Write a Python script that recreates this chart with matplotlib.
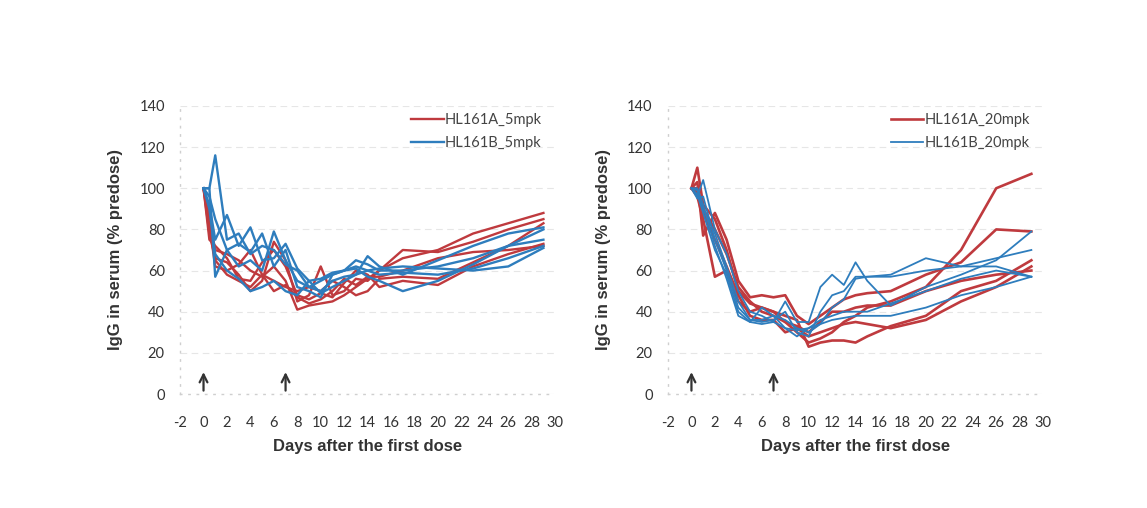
import numpy as np
import matplotlib.pyplot as plt

# sampling days (same for every animal)
days = [0, 0.5, 1, 2, 3, 4, 5, 6, 7, 8, 9, 10, 11, 12, 13, 14, 15, 17, 20, 23, 26, 29]

# 5 mpk group, % of predose IgG
a5 = [
    [100, 85, 70, 68, 65, 60, 57, 62, 55, 41, 43, 44, 45, 48, 52, 56, 60, 66, 70, 78, 83, 88],
    [100, 78, 66, 64, 58, 50, 55, 74, 65, 45, 48, 62, 48, 50, 56, 55, 60, 70, 69, 74, 80, 85],
    [100, 82, 62, 60, 63, 70, 58, 55, 52, 50, 52, 50, 55, 52, 48, 50, 56, 57, 56, 64, 72, 83],
    [100, 75, 72, 66, 56, 55, 64, 70, 62, 48, 46, 49, 47, 54, 60, 58, 52, 55, 53, 62, 68, 73],
    [100, 88, 65, 58, 55, 52, 58, 50, 53, 47, 44, 46, 50, 56, 53, 57, 57, 60, 66, 69, 70, 72],
]
b5 = [
    [100, 100, 116, 75, 78, 68, 72, 70, 63, 60, 52, 50, 55, 57, 58, 60, 61, 62, 61, 60, 62, 71],
    [100, 100, 57, 70, 62, 65, 60, 79, 65, 55, 52, 55, 58, 60, 65, 63, 60, 60, 62, 66, 72, 75],
    [100, 92, 75, 87, 72, 81, 65, 66, 73, 61, 55, 49, 52, 55, 58, 67, 62, 58, 65, 72, 78, 81],
    [100, 96, 85, 70, 73, 69, 78, 62, 70, 52, 50, 47, 58, 60, 61, 57, 55, 50, 55, 63, 72, 80],
    [100, 90, 68, 60, 56, 50, 52, 55, 50, 48, 55, 56, 59, 60, 62, 60, 58, 59, 58, 61, 66, 72],
]

# 20 mpk group
a20 = [
    [100, 110, 92, 85, 70, 50, 44, 42, 40, 35, 30, 25, 27, 30, 35, 38, 42, 45, 52, 70, 100, 107],
    [100, 103, 77, 88, 75, 55, 47, 48, 47, 48, 38, 34, 38, 42, 46, 48, 49, 50, 58, 64, 80, 79],
    [100, 96, 85, 57, 60, 45, 40, 42, 40, 38, 36, 23, 25, 26, 26, 25, 28, 33, 38, 50, 55, 65],
    [100, 98, 88, 75, 62, 48, 38, 36, 36, 30, 32, 28, 30, 32, 34, 35, 34, 32, 36, 45, 52, 62],
    [100, 100, 90, 80, 68, 52, 45, 40, 38, 35, 33, 30, 35, 40, 40, 42, 43, 43, 50, 55, 58, 60],
]
b20 = [
    [100, 96, 104, 80, 68, 50, 40, 38, 35, 45, 35, 35, 52, 58, 53, 64, 55, 43, 52, 58, 65, 79],
    [100, 99, 90, 78, 62, 45, 36, 35, 36, 40, 30, 28, 40, 48, 50, 57, 57, 58, 66, 62, 66, 70],
    [100, 95, 96, 75, 60, 42, 36, 36, 38, 36, 32, 30, 34, 42, 46, 56, 57, 57, 60, 62, 62, 57],
    [100, 97, 88, 70, 58, 40, 35, 34, 35, 32, 31, 32, 34, 36, 37, 38, 38, 38, 42, 48, 52, 57],
    [100, 100, 92, 72, 56, 38, 35, 42, 38, 32, 28, 32, 36, 38, 40, 40, 40, 44, 50, 56, 60, 57],
]

dose_days = [0, 7]
xticks = list(range(-2, 31, 2))
yticks = list(range(0, 141, 20))

red = "#bf3a3e"
blue = "#2e7dbd"
tickfont = "Lato"
labfont = "Liberation Sans"

fig = plt.figure(figsize=(11.47, 5.08), dpi=100)
ax1 = fig.add_axes([0.157, 0.2244, 0.327, 0.567])
ax2 = fig.add_axes([0.5824, 0.2244, 0.327, 0.567])


def panel(ax, reds, blues, red_lab, blue_lab, red_lw, blue_lw):
    for i, s in enumerate(reds):
        ax.plot(days, s, color=red, lw=red_lw, label=red_lab if i == 0 else None, zorder=3)
    for i, s in enumerate(blues):
        ax.plot(days, s, color=blue, lw=blue_lw, label=blue_lab if i == 0 else None, zorder=3)

    ax.set_xlim(-2, 30)
    ax.set_ylim(0, 140)
    ax.set_xticks(xticks)
    ax.set_yticks(yticks)
    ax.set_xticklabels([str(t) for t in xticks], fontfamily=tickfont, fontsize=10.5, color="#333333")
    ax.set_yticklabels([str(t) for t in yticks], fontfamily=tickfont, fontsize=10.5, color="#333333")
    ax.tick_params(axis="x", length=0, pad=16)
    ax.tick_params(axis="y", length=0, pad=11)
    ax.grid(axis="y", color="#e6e6e6", lw=0.8, ls=(0, (6, 4)))
    ax.set_axisbelow(True)
    for side in ["top", "right"]:
        ax.spines[side].set_visible(False)
    for side in ["left", "bottom"]:
        ax.spines[side].set_color("#cfcfcf")
        ax.spines[side].set_linestyle((0, (1, 5)))
        ax.spines[side].set_linewidth(1)

    for d in dose_days:
        ax.annotate("", xy=(d, 12), xytext=(d, 0.3),
                    arrowprops=dict(arrowstyle="->", color="#333333", lw=1.6, mutation_scale=14))

    ax.set_xlabel("Days after the first dose", fontfamily=labfont, fontsize=12,
                  fontweight="bold", color="#333333", labelpad=6)
    ax.set_ylabel("IgG in serum (% predose)", fontfamily=labfont, fontsize=12,
                  fontweight="bold", color="#333333", labelpad=12)
    leg = ax.legend(loc="upper right", bbox_to_anchor=(1.0, 1.02), frameon=False,
                    handlelength=2.2, handletextpad=0.1, labelspacing=0.6,
                    prop={"family": tickfont, "size": 10.5})
    for t in leg.get_texts():
        t.set_color("#444444")


panel(ax1, a5, b5, "HL161A_5mpk", "HL161B_5mpk", 1.7, 1.7)
panel(ax2, a20, b20, "HL161A_20mpk", "HL161B_20mpk", 1.9, 1.3)

fig.savefig("out.png", dpi=100)
